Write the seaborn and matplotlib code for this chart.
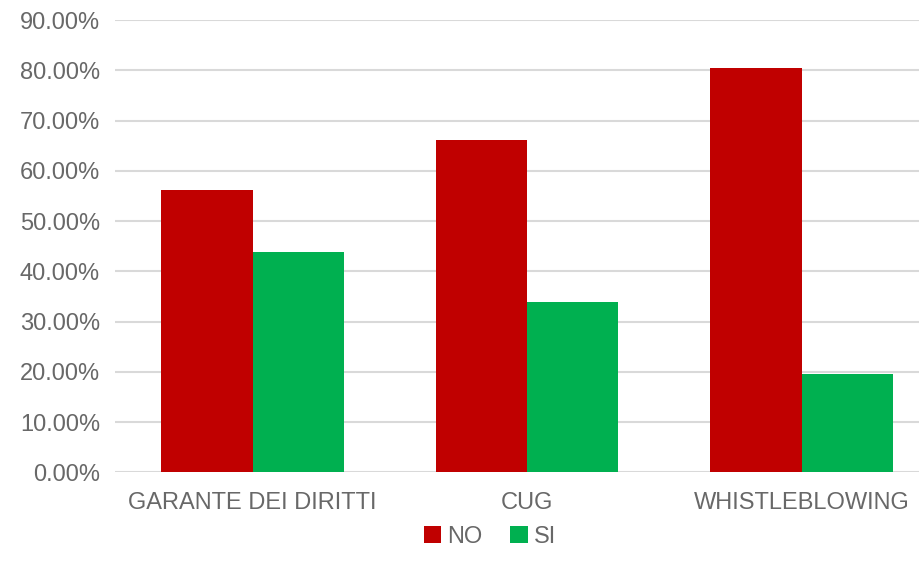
import matplotlib
matplotlib.use("Agg")
import matplotlib.pyplot as plt
import seaborn as sns
import pandas as pd
from matplotlib.ticker import FuncFormatter, MultipleLocator

# Survey answers per instrument (percent of respondents)
categories = ["GARANTE DEI DIRITTI", "CUG", "WHISTLEBLOWING"]
risposte = ["NO", "SI"]
valori_no = [56.1, 66.1, 80.4]
valori_si = [43.9, 33.9, 19.6]
colori = {"NO": "#C00000", "SI": "#00B050"}

df = pd.DataFrame({
    "categoria": categories * 2,
    "risposta": ["NO"] * len(categories) + ["SI"] * len(categories),
    "valore": valori_no + valori_si,
})

sns.set_theme(style="white")
plt.rcParams["font.family"] = ["Liberation Sans", "DejaVu Sans"]
text_color = "#686868"

fig = plt.figure(figsize=(9.2, 5.65), dpi=100)
ax = fig.add_axes([0.1254, 0.1641, 0.8951, 0.8005])

sns.barplot(data=df, x="categoria", y="valore", hue="risposta",
            hue_order=risposte, order=categories, palette=colori,
            width=0.665, saturation=1, linewidth=0, ax=ax)

ax.set_xlim(-0.5, len(categories) - 0.5)
ax.set_ylim(0, 90)
ax.yaxis.set_major_locator(MultipleLocator(10))
ax.yaxis.set_major_formatter(FuncFormatter(lambda v, _: f"{v:.2f}%"))
ax.grid(axis="y", color="#d9d9d9", linewidth=1.5)
ax.set_axisbelow(True)
for s in ax.spines.values():
    s.set_visible(False)
ax.set_xlabel("")
ax.set_ylabel("")
ax.tick_params(axis="y", length=0, pad=11, labelsize=17, labelcolor=text_color)
ax.tick_params(axis="x", length=0, pad=14, labelsize=17, labelcolor=text_color)

sns.move_legend(ax, "center", bbox_to_anchor=(0.5326, 0.0496),
                bbox_transform=fig.transFigure, ncol=2, frameon=False,
                title=None, handlelength=0.75, handleheight=0.75,
                handletextpad=0.25, columnspacing=1.18, fontsize=17)
for t in ax.get_legend().get_texts():
    t.set_color(text_color)

fig.savefig("out.png", dpi=100)
